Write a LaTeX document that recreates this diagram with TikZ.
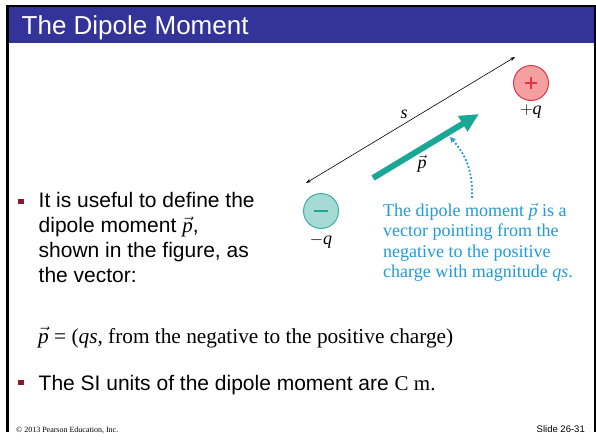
\documentclass[tikz,border=0pt]{standalone}
\usepackage{fontspec}
\setmainfont{Liberation Serif}
\newfontfamily\slidefont{Liberation Sans}
\usetikzlibrary{arrows.meta,positioning}
\definecolor{titleblue}{RGB}{51,51,153}
\definecolor{bulletred}{RGB}{140,24,44}
\definecolor{dipteal}{RGB}{26,168,150}
\definecolor{capblue}{RGB}{32,155,215}
\definecolor{posfill}{RGB}{245,160,160}
\definecolor{posline}{RGB}{232,50,70}
\definecolor{negfill}{RGB}{166,218,212}
\definecolor{negline}{RGB}{60,178,165}
\newcommand{\pv}{$\vec{\mbox{\itshape p}}$}
\tikzset{
  charge/.style={
    inner sep = 0pt,
    shape = circle,
    minimum size = 35pt,
    line width = 1pt,
    draw
  },
  poscharge/.style={charge, draw=posline, fill=posfill},
  negcharge/.style={charge, draw=negline, fill=negfill},
  sign/.style={
    line width = 2.2pt
  },
}
\tikzset{
  bulletsq/.style={
    inner sep = 0pt,
    shape = rectangle,
    minimum size = 5.5pt,
    fill = bulletred
  },
  slidetext/.style={
    inner sep = 0pt,
    align = left,
    font = \slidefont\fontsize{21}{25}\selectfont
  },
  captext/.style={
    inner sep = 0pt,
    align = left,
    text = capblue,
    font = \fontsize{18}{20.5}\selectfont
  },
  every label/.style = {
    text depth = 3pt,
    text height = 12pt,
    inner sep = 1pt,
    font = \fontsize{18}{18}\selectfont
  },
}
\begin{document}
\begin{tikzpicture}[x=1pt,y=-1pt]
\useasboundingbox (0,0) rectangle (596,442);
\fill[white] (0,0) rectangle (596,442);
% slide frame and title
\fill[titleblue] (8,7) rectangle (594,42.5);
\draw[line width=2.5pt] (7.3,432) -- (7.3,6) -- (595.3,6) -- (595.3,432);
\node[anchor=base west, inner sep=0pt, text=white,
      font=\slidefont\fontsize{26}{26}\selectfont] (title) at (21.5,34.3) {The Dipole Moment};
% charges
\node[poscharge, label={[label distance=0.5pt]below:{$+$\textit{q}}}] (qpos) at (531,83) {};
\node[negcharge, label={[label distance=2.5pt]below:{$-$\textit{q}}}] (qneg) at (321,211) {};
\draw[sign, posline] ([xshift=-6.2pt]qpos.center) -- ([xshift=6.2pt]qpos.center);
\draw[sign, posline] ([yshift=-6.2pt]qpos.center) -- ([yshift=6.2pt]qpos.center);
\draw[sign, dipteal, line width=2.6pt] ([xshift=-7pt]qneg.center) -- ([xshift=7pt]qneg.center);
% separation s
\coordinate (s0) at (306,183);
\coordinate (s1) at (515,57);
\draw[line width=0.6pt, {Stealth[length=5pt,width=3.5pt]}-{Stealth[length=5pt,width=3.5pt]}] (s0) -- (s1);
\node[font=\fontsize{18}{18}\selectfont] (slab) at (404,114) {\textit{s}};
% dipole vector
\coordinate (p0) at (373,178);
\coordinate (p1) at (479,114);
\draw[dipteal, line width=6pt, -{Triangle[length=19pt,width=17pt]}] (p0) -- (p1);
\node[font=\fontsize{18}{18}\selectfont] (plab) at (422,164) {\pv};
% caption
\node[captext, anchor=north west] (cap) at (383,202.5)
  {The dipole moment \pv{} is a\\vector pointing from the\\negative to the positive\\charge with magnitude \textit{qs}.};
\coordinate (d0) at (472,198);
\coordinate (d1) at (450,137);
\draw[capblue, line width=1.8pt, dotted, -{Stealth[length=6pt,width=6pt]}] (d0) to[bend right=22] (d1);
% bullets
\foreach \y/\n in {201.5/b1,382.5/b2}{
  \node[bulletsq] (\n) at (21,\y) {}; }
\node[slidetext, anchor=north west] (t1) at (38.5,191.7)
  {It is useful to define the\\dipole moment {\rmfamily\pv},\\shown in the figure, as\\the vector:};
\node[anchor=base west, inner sep=0pt, font=\fontsize{21.3}{21.3}\selectfont] (eq) at (38,343)
  {\pv{} = (\textit{qs}, from the negative to the positive charge)};
\node[anchor=base west, inner sep=0pt, font=\slidefont\fontsize{21}{21}\selectfont] (t2) at (38.5,390)
  {The SI units of the dipole moment are {\rmfamily C m.}};
% footer
\node[anchor=base west, inner sep=0pt, font=\fontsize{8}{8}\selectfont] (copy) at (16,432)
  {\textcopyright{} 2013 Pearson Education, Inc.};
\node[anchor=base east, inner sep=0pt, font=\slidefont\fontsize{9.5}{9.5}\selectfont] (slide) at (585,432)
  {Slide 26-31};
\end{tikzpicture}
\end{document}
